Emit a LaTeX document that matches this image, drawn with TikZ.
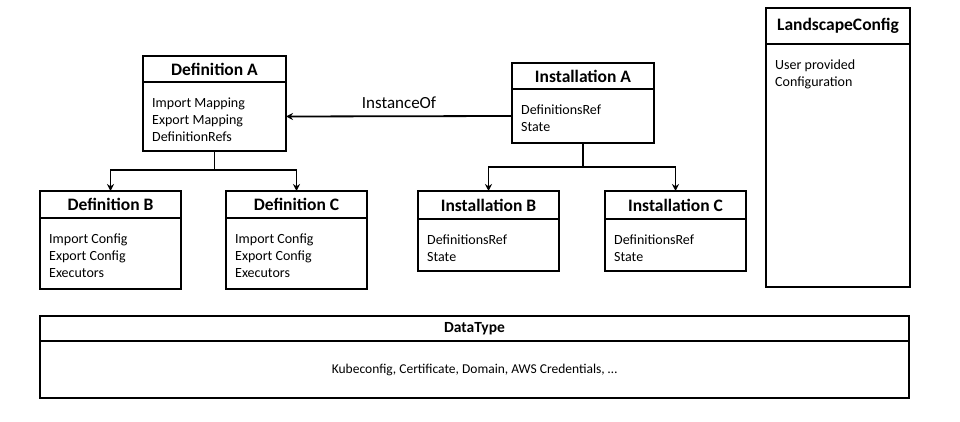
\documentclass[tikz,border=0pt]{standalone}
\usepackage{fontspec}
\setmainfont{Carlito}
\usetikzlibrary{arrows.meta,positioning}
\tikzset{
  box title/.style={draw,line width=1.8pt,outer sep=0pt,inner sep=0pt,anchor=north west,
    font=\bfseries\fontsize{17.5}{20}\selectfont},
  box body/.style={draw,line width=1.8pt,outer sep=0pt,inner sep=0pt,anchor=north west},
  box text/.style={anchor=north west,align=left,inner sep=0pt,
    font=\fontsize{14}{17}\selectfont},
  link/.style={line width=1.8pt,-{Stealth[length=7pt,width=7pt]}},
}
% name, x, y, width, title height, body height, title, body
\newcommand\umlclass[8]{%
  \node[box title,minimum width=#4pt,minimum height=#5pt] (#1) at (#2,#3) {#7};
  \node[box body,minimum width=#4pt,minimum height=#6pt] (#1b) at (#1.south west) {};
  \node[box text] (#1t) at ([shift={(9,16)}]#1b.north west) {#8};
}

\begin{document}
\begin{tikzpicture}[x=1pt,y=-1pt]
  \useasboundingbox (0,0) rectangle (960,422);
  %% Definitions
  \umlclass{defA}{143}{56}{143}{26}{69}{Definition A}{Import Mapping\\Export Mapping\\DefinitionRefs}
  \umlclass{defB}{40}{191}{141}{27}{71}{Definition B}{Import Config\\Export Config\\Executors}
  \umlclass{defC}{226}{191}{141}{27}{71}{Definition C}{Import Config\\Export Config\\Executors}
  %% Installations
  \umlclass{instA}{512}{63}{142}{26}{54}{Installation A}{DefinitionsRef\\State}
  \umlclass{instB}{418}{191}{141}{28}{52}{Installation B}{DefinitionsRef\\State}
  \umlclass{instC}{605}{191}{141}{28}{52}{Installation C}{DefinitionsRef\\State}
  %% Config
  \umlclass{land}{766}{8}{144}{36}{243}{LandscapeConfig}{User provided\\Configuration}
  %% DataType
  \node[box title,minimum width=869pt,minimum height=25pt,font=\bfseries\fontsize{15.5}{18}\selectfont]
    (data) at (40,316) {DataType};
  \node[box body,minimum width=869pt,minimum height=57pt,font=\fontsize{13.5}{16}\selectfont]
    (datab) at (data.south west) {Kubeconfig, Certificate, Domain, AWS Credentials, \dots};
  %% Paths
  \draw[link] (instAb.west) -- (defAb.east)
    node[midway,above=7pt,inner sep=0pt,font=\fontsize{17}{20}\selectfont] {InstanceOf};
  \draw[link] (defAb.south) -- ++(0,19) -| (defB.north);
  \draw[link] (defAb.south) -- ++(0,19) -| (defC.north);
  \draw[link] (instAb.south) -- ++(0,24) -| (instB.north);
  \draw[link] (instAb.south) -- ++(0,24) -| (instC.north);
\end{tikzpicture}
\end{document}
